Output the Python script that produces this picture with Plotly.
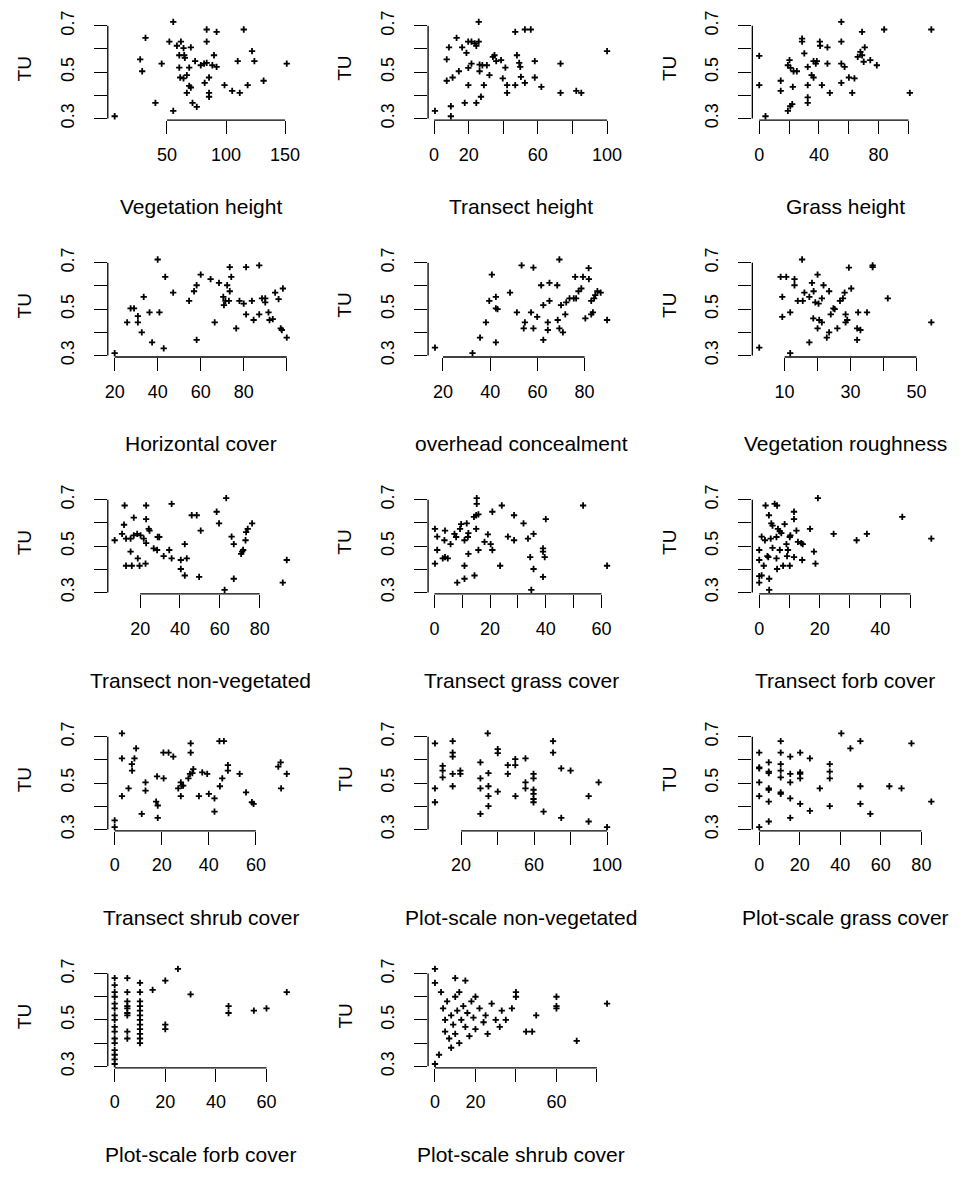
import plotly.graph_objects as go

# ---------------- data ----------------
veg_height = [5.7,31.8,27.3,29.0,40.2,55.3,52.0,45.5,55.3,58.4,61.8,64.0,70.2,60.4,64.6,65.1,60.4,68.8,73.8,61.2,64.0,66.8,68.8,70.2,66.8,71.6,75.2,78.6,81.4,83.6,81.9,85.6,85.6,85.6,83.6,83.6,92.0,89.8,88.4,92.0,98.7,105.2,111.6,109.9,115.0,118.3,122.0,124.0,131.8,151.4]
veg_height_tu = [0.310,0.648,0.555,0.504,0.368,0.717,0.632,0.537,0.333,0.614,0.632,0.604,0.607,0.573,0.573,0.562,0.520,0.520,0.548,0.477,0.473,0.487,0.441,0.434,0.411,0.368,0.350,0.530,0.537,0.540,0.454,0.477,0.411,0.394,0.684,0.632,0.674,0.573,0.530,0.523,0.444,0.419,0.411,0.548,0.684,0.444,0.591,0.548,0.463,0.537]

transect_height = [0.5,9.7,9.7,7.3,10.7,14.3,7.3,8.6,13.0,16.2,18.7,19.7,21.6,23.5,24.4,25.8,25.8,19.8,21.6,19.8,17.7,24.4,27.1,26.3,26.3,27.9,30.5,28.8,32.0,34.0,34.9,35.9,38.7,41.2,39.7,42.2,42.2,46.9,46.9,47.9,49.2,49.8,50.2,52.5,52.5,55.9,58.2,58.2,62.0,73.1,73.1,82.2,85.1,100.0]
transect_height_tu = [0.333,0.353,0.310,0.463,0.477,0.504,0.555,0.607,0.648,0.607,0.583,0.632,0.632,0.624,0.614,0.632,0.717,0.519,0.537,0.444,0.368,0.368,0.394,0.533,0.504,0.530,0.530,0.444,0.487,0.566,0.573,0.548,0.552,0.520,0.473,0.444,0.411,0.444,0.674,0.573,0.540,0.523,0.480,0.454,0.684,0.684,0.548,0.477,0.437,0.537,0.411,0.419,0.411,0.591]

grass_height = [0,0,4.2,14.4,14.4,19.2,20.8,22.1,22.5,19.2,20.3,21.0,23.0,25.2,28.7,28.7,30.2,32.5,32.5,32.5,32.5,35.1,36.4,36.4,37.9,38.6,40.6,40.8,42.0,45.7,45.7,47.3,55.0,55.0,55.0,57.2,55.0,60.1,63.8,62.3,66.0,67.8,68.9,70.0,70.7,74.4,78.8,83.7,100.9,115.3,68.9]
grass_height_tu = [0.570,0.444,0.310,0.463,0.419,0.333,0.353,0.362,0.437,0.530,0.552,0.519,0.504,0.504,0.645,0.632,0.581,0.523,0.444,0.391,0.368,0.487,0.477,0.548,0.537,0.548,0.632,0.614,0.444,0.607,0.537,0.411,0.717,0.632,0.537,0.523,0.454,0.477,0.473,0.411,0.566,0.588,0.674,0.545,0.607,0.552,0.530,0.684,0.411,0.684,0.573]

horizontal_cover = [20,25.8,27.4,29.0,30.8,30.8,32.6,33.5,36.2,37.4,40.8,40.0,42.8,43.5,47.2,54.6,56.9,58.1,58.1,60.0,64.6,66.5,68.5,70.5,70.8,71.5,72.3,73.5,74.2,73.5,73.1,76.5,78.0,80.0,81.1,81.1,83.8,84.6,87.2,87.2,88.5,90.0,90.0,91.5,92.0,93.5,94.6,96.2,98.2,97.2,100.0,97.7]
horizontal_cover_tu = [0.310,0.443,0.503,0.503,0.470,0.443,0.400,0.553,0.486,0.357,0.486,0.714,0.331,0.639,0.571,0.536,0.577,0.603,0.367,0.649,0.629,0.443,0.613,0.553,0.517,0.536,0.603,0.681,0.639,0.577,0.536,0.417,0.536,0.524,0.681,0.477,0.536,0.453,0.477,0.689,0.546,0.546,0.529,0.486,0.453,0.457,0.571,0.543,0.589,0.417,0.377,0.410]

overhead_concealment = [16.6,32.5,35.7,38.2,39.6,40.7,42.4,42.4,43.1,42.4,48.4,51.3,53.3,54.7,54.2,57.3,58.3,58.3,59.9,61.6,62.5,62.5,64.4,64.4,65.1,65.1,68.4,69.3,68.6,69.3,70.8,70.0,71.8,72.2,73.6,75.4,76.4,76.0,77.4,78.6,79.3,80.3,81.7,81.8,82.8,83.5,82.8,84.0,84.5,85.4,86.8,89.5]
overhead_concealment_tu = [0.334,0.310,0.377,0.443,0.536,0.649,0.553,0.503,0.500,0.357,0.571,0.486,0.689,0.443,0.417,0.486,0.417,0.679,0.467,0.603,0.367,0.517,0.410,0.443,0.536,0.613,0.603,0.714,0.453,0.417,0.400,0.517,0.477,0.529,0.546,0.546,0.546,0.639,0.577,0.589,0.639,0.460,0.677,0.629,0.477,0.486,0.536,0.546,0.560,0.577,0.571,0.453]

veg_roughness = [2.3,11.7,15.3,8.8,10.5,13.0,13.0,9.3,9.3,11.7,14.0,15.5,16.0,17.5,18.3,18.8,19.3,20.0,20.3,21.3,21.8,23.5,18.7,20.5,21.3,20.0,17.5,22.8,23.5,24.0,24.8,25.2,26.0,26.8,27.7,28.2,28.5,28.5,29.0,29.5,30.2,32.3,35.0,32.0,33.0,32.0,36.7,36.7,41.3,54.5]
veg_roughness_tu = [0.334,0.310,0.714,0.639,0.639,0.629,0.603,0.553,0.467,0.486,0.536,0.536,0.571,0.553,0.613,0.577,0.529,0.649,0.524,0.546,0.603,0.577,0.460,0.453,0.443,0.417,0.357,0.377,0.400,0.477,0.503,0.500,0.417,0.536,0.546,0.571,0.477,0.443,0.453,0.679,0.589,0.486,0.486,0.417,0.410,0.367,0.681,0.689,0.546,0.443]

transect_nonveg = [7.2,12.2,11.9,10.9,12.9,15.2,16.8,15.2,12.9,15.8,18.8,19.7,22.7,16.8,18.5,20.2,21.8,23.0,23.0,23.0,24.3,24.7,28.8,29.6,26.8,28.5,31.8,34.6,35.8,35.8,40.4,43.4,40.4,42.4,42.4,45.9,48.4,49.6,50.4,58.4,59.6,62.4,63.2,65.9,67.0,67.0,70.7,71.7,72.9,73.2,74.0,76.2,91.6,93.6,71.2]
transect_nonveg_tu = [0.525,0.675,0.592,0.553,0.532,0.532,0.623,0.476,0.415,0.415,0.447,0.415,0.424,0.546,0.553,0.546,0.532,0.513,0.675,0.616,0.574,0.567,0.539,0.539,0.490,0.483,0.457,0.483,0.682,0.447,0.440,0.447,0.401,0.373,0.508,0.633,0.633,0.367,0.567,0.648,0.598,0.311,0.707,0.541,0.508,0.359,0.466,0.483,0.525,0.560,0.574,0.598,0.342,0.440,0.476]

transect_grass = [0.2,1.0,1.0,0.2,3.8,3.6,3.0,3.8,4.8,5.8,7.2,7.8,8.2,9.2,9.6,10.8,10.8,10.8,11.6,12.0,12.2,12.2,14.2,15.0,15.8,15.0,14.4,15.2,15.2,15.8,18.0,19.2,20.2,20.8,20.8,23.6,24.2,26.4,28.6,28.6,32.0,33.6,34.4,35.6,35.6,34.8,39.0,39.0,39.6,39.0,40.0,53.4,62.0]
transect_grass_tu = [0.574,0.541,0.483,0.424,0.567,0.525,0.447,0.452,0.447,0.508,0.553,0.539,0.342,0.574,0.595,0.525,0.415,0.359,0.598,0.539,0.556,0.466,0.626,0.633,0.637,0.574,0.373,0.707,0.682,0.483,0.518,0.550,0.508,0.483,0.648,0.415,0.675,0.541,0.525,0.633,0.598,0.532,0.452,0.553,0.401,0.311,0.490,0.476,0.452,0.367,0.616,0.675,0.415]

transect_forb = [0,0,0,0,0.8,0.8,1.5,2.1,1.9,3.3,3.3,3.0,2.7,3.2,3.8,4.0,4.4,4.4,5.1,5.9,5.7,5.7,5.9,6.2,6.8,6.8,7.3,7.9,8.4,9.0,9.2,10.3,10.1,10.1,9.5,11.5,11.5,11.5,12.3,12.8,13.9,14.4,14.2,16.8,18.1,18.6,19.4,24.6,32.2,35.6,47.3,56.9]
transect_forb_tu = [0.483,0.440,0.370,0.342,0.541,0.373,0.415,0.675,0.525,0.359,0.311,0.452,0.457,0.633,0.532,0.598,0.588,0.492,0.682,0.675,0.539,0.447,0.401,0.574,0.564,0.483,0.556,0.415,0.595,0.508,0.457,0.546,0.539,0.415,0.483,0.648,0.616,0.452,0.567,0.518,0.513,0.508,0.440,0.574,0.476,0.424,0.707,0.553,0.525,0.553,0.626,0.532]

transect_shrub = [0,0,3.1,3.1,3.1,5.9,7.3,7.4,8.4,9.1,11.5,13.1,13.1,17.6,18.3,18.0,18.3,20.8,20.7,22.9,24.9,27.0,28.1,28.5,28.1,29.1,31.3,32.0,32.3,32.3,33.4,33.0,35.8,37.2,39.3,40.0,42.4,42.4,44.5,46.4,44.7,45.7,48.1,48.1,53.1,55.8,58.3,59.0,69.5,70.5,70.7,73.1]
transect_shrub_tu = [0.339,0.310,0.714,0.606,0.443,0.477,0.581,0.553,0.606,0.649,0.367,0.503,0.467,0.420,0.403,0.529,0.350,0.520,0.631,0.631,0.614,0.477,0.503,0.489,0.443,0.489,0.520,0.539,0.671,0.631,0.560,0.543,0.443,0.546,0.539,0.453,0.434,0.377,0.681,0.681,0.486,0.520,0.577,0.553,0.539,0.460,0.417,0.410,0.571,0.589,0.477,0.539]

plot_nonveg = [5.7,5.7,5.7,9.9,9.9,9.9,15.4,15.4,15.4,15.4,15.4,19.6,19.6,30.6,30.6,30.6,30.6,34.6,35.0,35.0,35.0,35.0,40.1,40.1,40.1,45.6,45.6,49.7,49.7,49.8,55.3,55.3,55.3,59.7,59.7,59.7,59.7,59.7,59.7,65.2,70.4,70.4,74.9,74.9,80.0,89.9,89.9,95.4,100.0]
plot_nonveg_tu = [0.671,0.477,0.417,0.574,0.553,0.524,0.681,0.631,0.614,0.539,0.486,0.553,0.539,0.589,0.520,0.477,0.367,0.714,0.543,0.486,0.443,0.400,0.646,0.629,0.463,0.577,0.539,0.603,0.577,0.443,0.606,0.503,0.477,0.539,0.520,0.471,0.453,0.431,0.417,0.377,0.681,0.631,0.563,0.350,0.553,0.443,0.334,0.503,0.310]

plot_grass = [0,0,0,0,0,0,4.7,4.7,4.7,4.7,4.7,4.7,4.7,10.6,10.6,10.6,10.6,10.6,10.6,10.6,15.3,15.3,15.3,15.3,15.3,20.2,20.2,20.2,20.2,20.2,25.0,25.0,29.9,34.8,34.8,34.8,34.8,40.5,45.0,49.9,49.9,49.9,54.8,64.2,70.2,75.1,84.9]
plot_grass_tu = [0.631,0.567,0.563,0.503,0.443,0.310,0.589,0.549,0.543,0.477,0.471,0.420,0.334,0.681,0.631,0.581,0.553,0.524,0.460,0.453,0.614,0.539,0.503,0.434,0.350,0.631,0.546,0.539,0.520,0.410,0.606,0.380,0.477,0.581,0.549,0.520,0.400,0.714,0.649,0.681,0.486,0.410,0.367,0.486,0.477,0.671,0.420]

plot_forb = [0,0,0,0,0,0,0,0,0,0,0,0,0,0,0,0,5,5,5,5,5,5,5,5,5,10,10,10,10,10,10,10,10,10,10,10,10,15,20,20,20,25,30,45,45,55,60,68]
plot_forb_tu = [0.68,0.65,0.62,0.60,0.57,0.55,0.52,0.50,0.47,0.45,0.42,0.40,0.37,0.35,0.33,0.31,0.68,0.62,0.58,0.56,0.55,0.53,0.52,0.45,0.42,0.66,0.62,0.58,0.56,0.54,0.52,0.50,0.48,0.46,0.44,0.42,0.40,0.63,0.67,0.48,0.46,0.72,0.61,0.56,0.53,0.54,0.55,0.62]

plot_shrub = [0,0,0,2,3,4,5,5,6,7,8,8,9,10,10,10,11,12,12,13,14,15,15,16,17,18,19,20,20,22,24,25,26,28,30,32,33,35,38,40,40,45,48,50,60,60,60,70,85]
plot_shrub_tu = [0.72,0.66,0.31,0.35,0.62,0.55,0.50,0.45,0.58,0.42,0.52,0.38,0.48,0.68,0.60,0.44,0.54,0.62,0.40,0.50,0.56,0.67,0.47,0.53,0.43,0.58,0.51,0.60,0.46,0.55,0.49,0.52,0.44,0.57,0.50,0.47,0.54,0.50,0.55,0.62,0.60,0.45,0.45,0.52,0.60,0.56,0.55,0.41,0.57]

titles = ["Vegetation height", "Transect height", "Grass height",
          "Horizontal cover", "overhead concealment", "Vegetation roughness",
          "Transect non-vegetated", "Transect grass cover", "Transect forb cover",
          "Transect shrub cover", "Plot-scale non-vegetated", "Plot-scale grass cover",
          "Plot-scale forb cover", "Plot-scale shrub cover"]

x_ticks = [[50, 100, 150], [0, 20, 40, 60, 80, 100], [0, 20, 40, 60, 80, 100],
           [20, 40, 60, 80, 100], [20, 40, 60, 80], [10, 20, 30, 40, 50],
           [20, 40, 60, 80], [0, 10, 20, 30, 40, 50, 60], [0, 10, 20, 30, 40, 50],
           [0, 20, 40, 60], [20, 40, 60, 80, 100], [0, 20, 40, 60, 80],
           [0, 20, 40, 60], [0, 20, 40, 60, 80]]
x_labels = [["50", "100", "150"], ["0", "20", "", "60", "", "100"], ["0", "", "40", "", "80", ""],
            ["20", "40", "60", "80", ""], ["20", "40", "60", "80"], ["10", "", "30", "", "50"],
            ["20", "40", "60", "80"], ["0", "", "20", "", "40", "", "60"], ["0", "", "20", "", "40", ""],
            ["0", "20", "40", "60"], ["20", "", "60", "", "100"], ["0", "20", "40", "60", "80"],
            ["0", "20", "40", "60"], ["0", "20", "", "60", ""]]

y_ticks = [0.3, 0.4, 0.5, 0.6, 0.7]
y_labels = ["0.3", "", "0.5", "", "0.7"]
y_title = "TU"

xs = [veg_height, transect_height, grass_height, horizontal_cover, overhead_concealment,
      veg_roughness, transect_nonveg, transect_grass, transect_forb, transect_shrub,
      plot_nonveg, plot_grass, plot_forb, plot_shrub]
ys = [veg_height_tu, transect_height_tu, grass_height_tu, horizontal_cover_tu,
      overhead_concealment_tu, veg_roughness_tu, transect_nonveg_tu, transect_grass_tu,
      transect_forb_tu, transect_shrub_tu, plot_nonveg_tu, plot_grass_tu,
      plot_forb_tu, plot_shrub_tu]
for a, b in zip(xs, ys):
    assert len(a) == len(b), (len(a), len(b))

# ---------------- layout ----------------
W, H = 963, 1177
col_left = [106, 430, 758]
plot_w = 188
row_top0 = 10.5
row_step = 240
plot_h = 104
FONT = "Liberation Sans, Arial, sans-serif"
FS_TICK = 18
FS_TITLE = 21
FS_YT = 19

def r_range(vals):
    lo, hi = min(vals), max(vals)
    pad = 0.04 * (hi - lo)
    return [lo - pad, hi + pad]

all_tu = [v for arr in ys for v in arr]
yr = r_range(all_tu)

fig = go.Figure()
layout = dict(width=W, height=H, margin=dict(l=0, r=0, t=0, b=0),
              plot_bgcolor="white", paper_bgcolor="white", showlegend=False,
              font=dict(family=FONT, size=FS_TICK, color="black"))
shapes = []
annotations = []

for i in range(len(xs)):
    r, c = divmod(i, 3)
    left = col_left[c]
    top = row_top0 + r * row_step
    xd = [left / W, (left + plot_w) / W]
    yd = [1 - (top + plot_h) / H, 1 - top / H]
    n = "" if i == 0 else str(i + 1)
    xr = r_range(xs[i])

    fig.add_trace(go.Scatter(
        x=xs[i], y=ys[i], mode="markers", xaxis="x" + n, yaxis="y" + n,
        marker=dict(symbol="cross-thin", size=4.5, color="black",
                    line=dict(color="black", width=1.8)),
        hoverinfo="skip"))

    common = dict(showgrid=False, zeroline=False, showline=False, ticks="outside",
                  ticklen=13, tickwidth=1.2, tickcolor="black", tickmode="array",
                  tickfont=dict(family=FONT, size=FS_TICK, color="black"), fixedrange=True)
    layout["xaxis" + n] = dict(domain=xd, range=xr, anchor="y" + n,
                               tickvals=x_ticks[i], ticktext=x_labels[i],
                               ticklabelstandoff=5, **common)
    layout["yaxis" + n] = dict(domain=yd, range=yr, anchor="x" + n,
                               tickvals=y_ticks, ticktext=y_labels, tickangle=-90,
                               ticklabelstandoff=13, **common)

    vis = [v for v in x_ticks[i] if xr[0] <= v <= xr[1]]
    shapes.append(dict(type="line", xref="x" + n, yref="y" + n + " domain",
                       x0=vis[0], x1=vis[-1], y0=0, y1=0,
                       line=dict(color="black", width=1.3)))
    shapes.append(dict(type="line", xref="x" + n + " domain", yref="y" + n,
                       x0=0, x1=0, y0=y_ticks[0], y1=y_ticks[-1],
                       line=dict(color="black", width=1.3)))

    annotations.append(dict(text=titles[i], xref="paper", yref="paper",
                            x=(left + plot_w / 2) / W, y=1 - (top + plot_h + 88) / H,
                            xanchor="center", yanchor="middle", showarrow=False,
                            font=dict(family=FONT, size=FS_TITLE, color="black")))
    annotations.append(dict(text=y_title, xref="paper", yref="paper",
                            x=(left - 84) / W, y=1 - (top + plot_h / 2) / H,
                            xanchor="center", yanchor="middle", showarrow=False,
                            textangle=-90,
                            font=dict(family=FONT, size=FS_YT, color="black")))

layout["shapes"] = shapes
layout["annotations"] = annotations
fig.update_layout(**layout)

fig.write_html("out.html", config={"displayModeBar": False},
               post_script="document.body.style.margin='0';")
